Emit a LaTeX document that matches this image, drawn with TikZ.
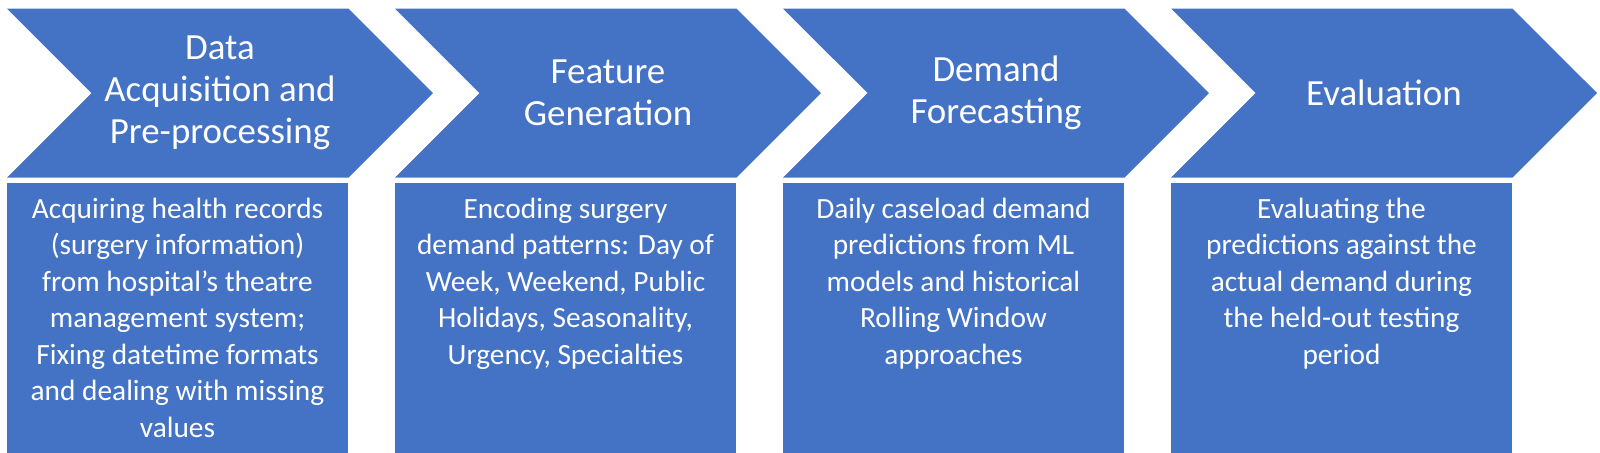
\documentclass[tikz,border=0pt]{standalone}
\usepackage{fontspec}
\setmainfont{Carlito}
\usetikzlibrary{shapes.symbols,positioning}
\definecolor{stageblue}{RGB}{68,114,196}
\begin{document}
\begin{tikzpicture}[x=0.1mm,y=-0.1mm]
    \tikzstyle{stagearrow}=[signal,fill=stageblue,signal from=west,signal to=east,
    signal pointer angle=90,minimum width=42.6mm,minimum height=16.9mm,inner sep=0pt,
    text=white,align=center,font=\fontsize{10.5}{11.9}\selectfont]
    \tikzstyle{stagebody}=[fill=stageblue,minimum width=34.1mm,minimum height=27mm,
    anchor=north,inner sep=0pt]
    \tikzstyle{stagetext}=[text=white,align=center,anchor=north,inner sep=0pt,
    font=\fontsize{8.35}{10.4}\selectfont]

    \useasboundingbox (0,0) rectangle (1600,452);

    %% Draw the four stage chevrons
    \node [stagearrow] (stage1) at (220,93) {Data\\Acquisition and\\Pre-processing};
    \node [stagearrow] (stage2) at (608,93) {Feature\\Generation};
    \node [stagearrow] (stage3) at (996,93) {Demand\\Forecasting};
    \node [stagearrow] (stage4) at (1384,93) {Evaluation};

    %% Draw the description boxes below the chevrons
    \node [stagebody] (body1) at (177.5,182) {};
    \node [stagebody] (body2) at (565.5,182) {};
    \node [stagebody] (body3) at (953.5,182) {};
    \node [stagebody] (body4) at (1341.5,182) {};

    %% Descriptions at the top of each box
    \node [stagetext,yshift=-1.5mm] at (body1.north) (desc1) {Acquiring health records\\(surgery information)\\from hospital’s theatre\\management system;\\Fixing datetime formats\\and dealing with missing\\values};
    \node [stagetext,yshift=-1.5mm] at (body2.north) (desc2) {Encoding surgery\\demand patterns: Day of\\Week, Weekend, Public\\Holidays, Seasonality,\\Urgency, Specialties};
    \node [stagetext,yshift=-1.5mm] at (body3.north) (desc3) {Daily caseload demand\\predictions from ML\\models and historical\\Rolling Window\\approaches};
    \node [stagetext,yshift=-1.5mm] at (body4.north) (desc4) {Evaluating the\\predictions against the\\actual demand during\\the held-out testing\\period};
\end{tikzpicture}
\end{document}
